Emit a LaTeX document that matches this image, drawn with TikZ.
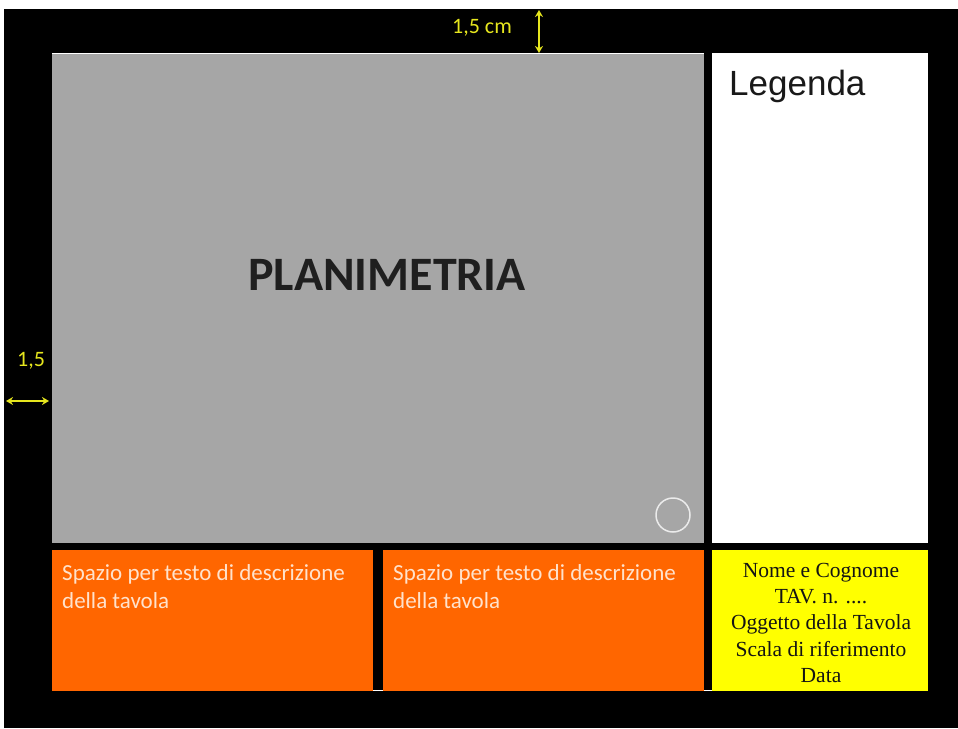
\documentclass[tikz,border=0pt]{standalone}
\usepackage{fontspec}
\setmainfont{Liberation Serif}
\newfontfamily\calibri{Carlito}
\newfontfamily\arialf{Liberation Sans}
\usetikzlibrary{arrows.meta}
\definecolor{plangray}{HTML}{A6A6A6}
\definecolor{orng}{HTML}{FF6600}
\definecolor{ylw}{HTML}{FFFF00}
\definecolor{dimyel}{HTML}{E6E61E}
\definecolor{peach}{HTML}{FFE2CC}
\begin{document}
\begin{tikzpicture}[x=1pt,y=-1pt,
  box/.style={rectangle, inner sep=0pt, outer sep=0pt, anchor=north west, draw=none},
  dimtext/.style={font=\calibri\fontsize{22}{22}\selectfont, text=dimyel, inner sep=0pt},
  dimarrow/.style={draw=dimyel, line width=2pt, {Stealth[length=7pt,width=8pt]}-{Stealth[length=7pt,width=8pt]}},
  desctext/.style={font=\calibri\fontsize{23}{28}\selectfont, text=peach, inner sep=0pt, anchor=north west, align=left}
]
\useasboundingbox (0,0) rectangle (958,728);
\fill[white] (0,0) rectangle (958,728);
\fill[black] (4,9) rectangle (958,728);
\fill[white] (52,53) rectangle (928,691);
% separators
\fill[black] (704,53) rectangle (712,690);
\fill[black] (52,543) rectangle (928,550);
\fill[black] (373,550) rectangle (383,690);
% boxes
\node[box, fill=plangray, minimum width=652pt, minimum height=489pt] (plan) at (52,54) {};
\node[box, fill=white, minimum width=216pt, minimum height=489pt] (legend) at (712,54) {};
\node[box, fill=orng, minimum width=321pt, minimum height=141pt] (descA) at (52,550) {};
\node[box, fill=orng, minimum width=321pt, minimum height=141pt] (descB) at (383,550) {};
\node[box, fill=ylw, minimum width=216pt, minimum height=141pt] (title) at (712,550) {};
% texts
\node[font=\calibri\bfseries\fontsize{48}{48}\selectfont, text=black!88, inner sep=0pt] (plantxt) at (387,275) {PLANIMETRIA};
\node[font=\arialf\fontsize{35}{35}\selectfont, text=black!90, inner sep=0pt, anchor=base west] (legtxt) at (729,95) {Legenda};
\node[desctext] (descAtxt) at (62,564) {Spazio per testo di descrizione\\della tavola};
\node[desctext] (descBtxt) at (393,564) {Spazio per testo di descrizione\\della tavola};
\node[font=\fontsize{21.5}{26.2}\selectfont, text=black!92, inner sep=0pt, anchor=north, align=center] (titletxt) at (821,563) {Nome e Cognome\\TAV. n. ....\\Oggetto della Tavola\\Scala di riferimento\\Data};
% circle
\node[circle, draw=white!92!black, line width=1.5pt, minimum size=34pt, inner sep=0pt] (north) at (673,515) {};
% dimensions
\node[dimtext] (dimtop) at (482,28) {1,5 cm};
\node[dimtext, anchor=base] (dimleft) at (31,366) {1,5};
\coordinate (vtop) at (539,10);
\coordinate (vbot) at (539,53);
\coordinate (hleft) at (6,401);
\coordinate (hright) at (49,401);
\draw[dimarrow] (vtop) -- (vbot);
\draw[dimarrow] (hleft) -- (hright);
\end{tikzpicture}
\end{document}
